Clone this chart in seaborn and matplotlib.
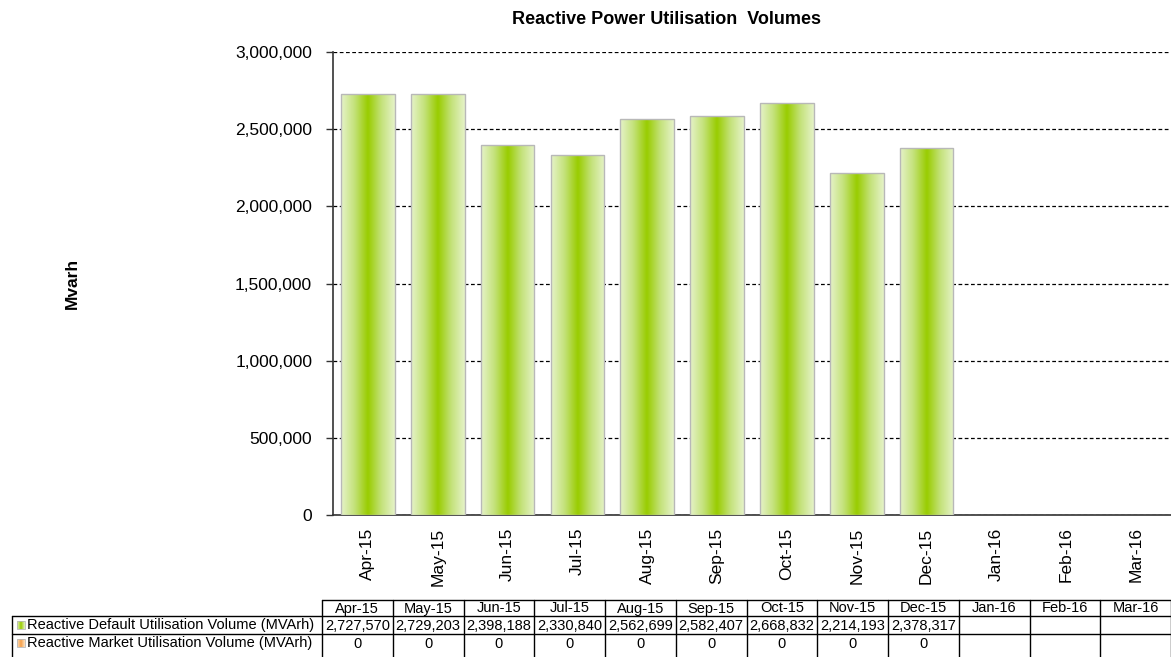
import numpy as np
import pandas as pd
import matplotlib
matplotlib.use('Agg')
import matplotlib.pyplot as plt
import matplotlib.ticker as mticker
from matplotlib.colors import LinearSegmentedColormap
from matplotlib.patches import Rectangle
import seaborn as sns

# Data
months = ['Apr-15', 'May-15', 'Jun-15', 'Jul-15', 'Aug-15', 'Sep-15',
          'Oct-15', 'Nov-15', 'Dec-15', 'Jan-16', 'Feb-16', 'Mar-16']
default_vol = [2727570, 2729203, 2398188, 2330840, 2562699, 2582407,
               2668832, 2214193, 2378317, np.nan, np.nan, np.nan]
market_vol = [0, 0, 0, 0, 0, 0, 0, 0, 0, np.nan, np.nan, np.nan]
row_labels = ['Reactive Default Utilisation Volume (MVArh)',
              'Reactive Market Utilisation Volume (MVArh)']
y_ticks = [0, 500000, 1000000, 1500000, 2000000, 2500000, 3000000]

sns.set_style("white")
plt.rcParams['font.family'] = ['Liberation Sans', 'DejaVu Sans']
plt.rcParams['text.color'] = 'black'
plt.rcParams['xtick.color'] = 'black'
plt.rcParams['ytick.color'] = 'black'
plt.rcParams['xtick.labelcolor'] = 'black'
plt.rcParams['ytick.labelcolor'] = 'black'

W, H = 1171, 657
fig = plt.figure(figsize=(W / 100, H / 100), dpi=100)
ax = fig.add_axes([333 / W, 1 - 515 / H, 838 / W, 463 / H])

df = pd.DataFrame({'Month': months, 'Default': default_vol})
sns.barplot(data=df, x='Month', y='Default', order=months, ax=ax,
            color='#a8d41a', width=0.77, edgecolor='#b8b8b8', linewidth=1,
            zorder=3)

# gradient fill for the bars (light edges, strong green centre)
green_cmap = LinearSegmentedColormap.from_list(
    'bar_green', ['#e6f3c9', '#c4e27a', '#99cc00', '#c4e27a', '#e6f3c9'])
grad = np.linspace(0, 1, 256).reshape(1, -1)
for bar in list(ax.patches):
    h = bar.get_height()
    if not np.isfinite(h) or h <= 0:
        continue
    x0 = bar.get_x()
    w = bar.get_width()
    im = ax.imshow(grad, cmap=green_cmap, aspect='auto',
                   extent=(x0, x0 + w, 0, h), zorder=3.5,
                   interpolation='bicubic')
    im.set_clip_path(bar)
    bar.set_facecolor('none')
    bar.set_zorder(4)

ax.set_xlim(-0.5, len(months) - 0.5)
ax.set_ylim(0, 3000000)
ax.set_yticks(y_ticks)
ax.yaxis.set_major_formatter(mticker.FuncFormatter(lambda v, p: f'{int(v):,}'))
ax.grid(axis='y', linestyle=(0, (3, 2)), color='black', linewidth=0.9, zorder=1)
ax.grid(axis='x', visible=False)

ax.set_xlabel('')
ax.set_ylabel('')
ax.set_xticks(range(len(months)))
ax.set_xticklabels(months, rotation=90)
ax.set_xticks(np.arange(-0.5, len(months), 1), minor=True)
ax.tick_params(axis='x', which='major', length=0, pad=9, labelsize=12.5)
ax.tick_params(axis='x', which='minor', length=5, width=1, direction='out',
               color='#333333')
ax.tick_params(axis='y', length=5, width=1, direction='out', pad=10,
               labelsize=12.5, color='#333333', left=True)

for s in ['top', 'right']:
    ax.spines[s].set_visible(False)
for s in ['left', 'bottom']:
    ax.spines[s].set_color('#333333')
    ax.spines[s].set_linewidth(1.2)

fig.text(667 / W, 1 - 20 / H, 'Reactive Power Utilisation  Volumes',
         ha='center', va='center', fontsize=13, fontweight='bold')
fig.text(72 / W, 1 - 283 / H, 'Mvarh', ha='center', va='center',
         rotation=90, fontsize=12.5, fontweight='bold')

# Data table under the chart (pixel coordinates)
tab = fig.add_axes([0, 0, 1, 1], zorder=5)
tab.set_xlim(0, W)
tab.set_ylim(H, 0)
tab.axis('off')

col_x0, col_w = 322, 70.75
label_x0 = 12
row_y = [600, 616, 634, 652]
bottom = H
lc = 'black'
col_edges = [col_x0 + i * col_w for i in range(len(months) + 1)]

tab.plot([col_x0, col_edges[-1]], [row_y[0], row_y[0]], color=lc, lw=1)
tab.plot([label_x0, col_edges[-1]], [row_y[1], row_y[1]], color=lc, lw=1)
tab.plot([label_x0, col_edges[-1]], [row_y[2], row_y[2]], color=lc, lw=1)
tab.plot([label_x0, label_x0], [row_y[1], bottom], color=lc, lw=1)
for e in col_edges:
    tab.plot([e, e], [row_y[0], bottom], color=lc, lw=1)

for i, m in enumerate(months):
    cx = col_x0 + (i + 0.5) * col_w
    tab.text(cx, (row_y[0] + row_y[1]) / 2 + 0.5, m, ha='center', va='center',
             fontsize=10.5)
    if np.isfinite(default_vol[i]):
        tab.text(cx, (row_y[1] + row_y[2]) / 2 + 0.5, f'{int(default_vol[i]):,}',
                 ha='center', va='center', fontsize=10.5)
    if np.isfinite(market_vol[i]):
        tab.text(cx, (row_y[2] + row_y[3]) / 2 + 0.5, f'{int(market_vol[i]):,}',
                 ha='center', va='center', fontsize=10.5)

marker_cols = [('#e6f3c9', '#99cc00'), ('#fde3c4', '#f5a04a')]
for r, (lab, mc) in enumerate(zip(row_labels, marker_cols)):
    yc = (row_y[r + 1] + row_y[r + 2]) / 2
    mcmap = LinearSegmentedColormap.from_list('m%d' % r, [mc[0], mc[1], mc[0]])
    tab.imshow(grad, cmap=mcmap, aspect='auto',
               extent=(17, 25, yc + 4, yc - 4), zorder=2)
    tab.add_patch(Rectangle((17, yc - 4), 8, 8, fill=False,
                            edgecolor='#b8b8b8', lw=0.6, zorder=3))
    tab.text(27, yc + 0.5, lab, ha='left', va='center', fontsize=10.5)
tab.set_xlim(0, W)
tab.set_ylim(H, 0)

plt.savefig('out.png', dpi=100)
plt.close()
